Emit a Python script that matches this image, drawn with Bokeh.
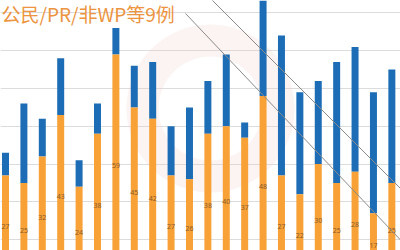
from bokeh.plotting import figure
from bokeh.models import ColumnDataSource, FixedTicker, Label
from bokeh.core.properties import value
from bokeh.embed import file_html
from bokeh.resources import INLINE

# data
cats = list(range(22))
orange_vals = [27, 25, 32, 43, 24, 38, 59, 45, 42, 27, 26, 38, 40, 37, 48, 27, 22, 30, 25, 28, 17, 25]
blue_vals = [6, 21, 10, 15, 7, 8, 7, 11, 15, 13, 19, 14, 19, 4, 30, 37, 27, 22, 32, 33, 32, 30]
grid_ticks = [10, 20, 30, 40, 50, 60, 70]
title_text = "公民/PR/非WP等9例"

W, H = 400, 250
X0, X1 = -0.272, 21.47
Y0, Y1 = 7.14, 73.28

def px_x(px):
    return X0 + px / W * (X1 - X0)

def px_y(py):
    return Y1 - py / H * (Y1 - Y0)

totals = [o + b for o, b in zip(orange_vals, blue_vals)]
src = ColumnDataSource(dict(
    x=cats,
    orange=orange_vals,
    total=totals,
    zero=[0] * len(cats),
    mid=[o / 2 for o in orange_vals],
    lab=[str(o) for o in orange_vals],
))

p = figure(width=W, height=H, x_range=(X0, X1), y_range=(Y0, Y1),
           output_backend="svg", toolbar_location=None, min_border=0)
p.axis.visible = False
p.xgrid.visible = False
p.ygrid.ticker = FixedTicker(ticks=grid_ticks)
p.ygrid.grid_line_color = "#dcdcdc"
p.ygrid.grid_line_width = 1
p.outline_line_color = None
p.background_fill_color = "white"
p.border_fill_color = "white"

# faint watermark ring
p.annulus(x=[px_x(210)], y=[px_y(108)], inner_radius=52, outer_radius=84,
          inner_radius_units="screen", outer_radius_units="screen",
          fill_color="#f2c9c9", fill_alpha=0.22, line_color=None)

p.vbar(x="x", bottom="orange", top="total", width=0.38, source=src,
       fill_color="#1c6db5", line_color=None)
p.vbar(x="x", bottom="zero", top="orange", width=0.38, source=src,
       fill_color="#f7a136", line_color=None)

p.text(x="x", y="mid", text="lab", source=src, text_align="center",
       text_baseline="middle", text_font_size="7px", text_color="#8a5a2a",
       text_font=value("Noto Sans"))

# diagonal annotation lines
p.segment(x0=[px_x(205), px_x(185)], y0=[px_y(-7), px_y(13)],
          x1=[px_x(410), px_x(410)], y1=[px_y(198), px_y(250)],
          line_color="#8a8a8a", line_width=1)

p.add_layout(Label(x=1, y=H - 13, x_units="screen", y_units="screen",
                   text=title_text, text_font="Noto Sans CJK SC",
                   text_font_size="19px", text_color="#ec9440",
                   text_baseline="middle", text_align="left"))

open("out.html", "w").write(file_html(p, INLINE))
